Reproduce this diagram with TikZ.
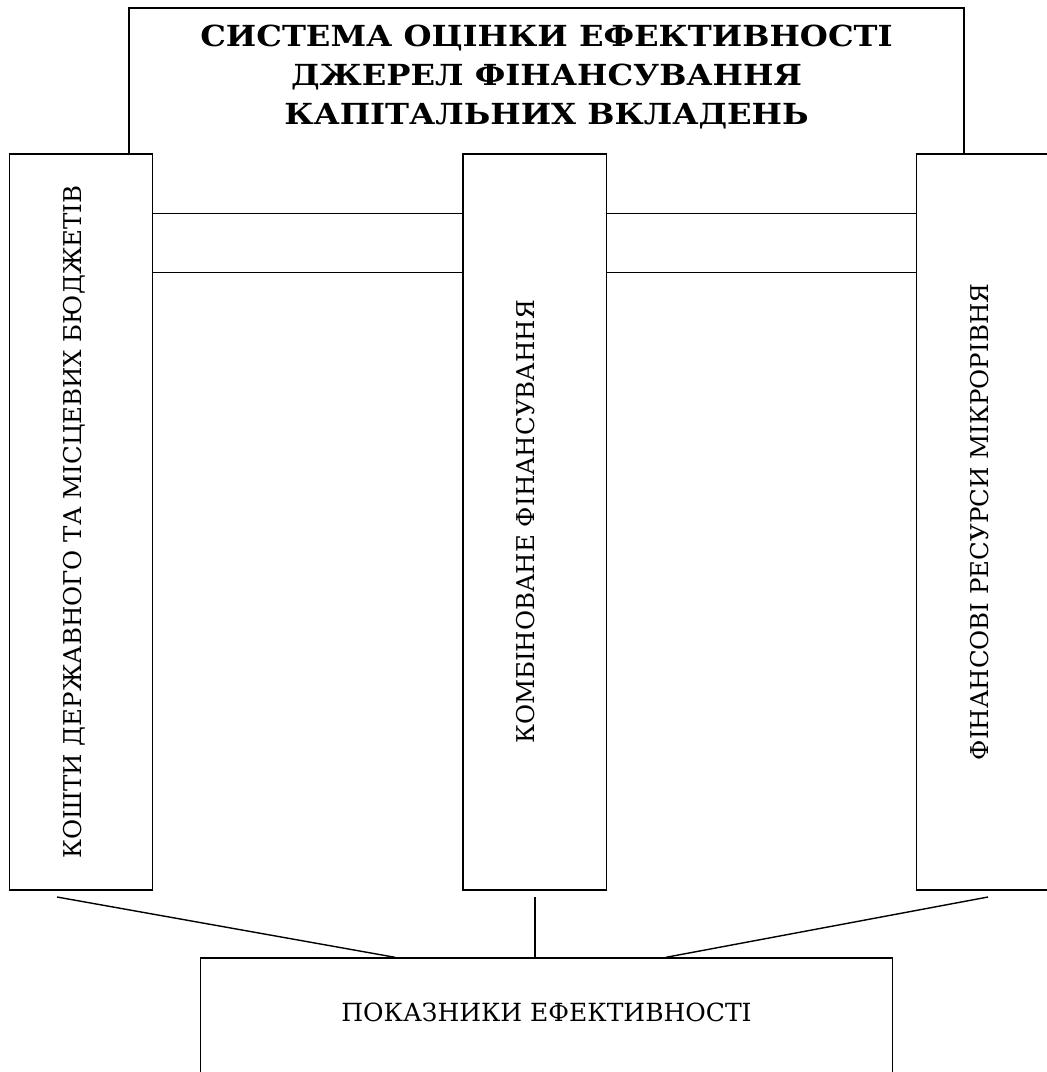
\documentclass[tikz,border=0pt]{standalone}
\usepackage{fontspec}
\setmainfont{DejaVu Serif}
\newfontfamily\titlefont[FakeStretch=1.11]{DejaVu Serif}
\usetikzlibrary{positioning}

\tikzset{
  box/.style={draw, line width=1.4pt, inner sep=0pt, minimum width=143.4, minimum height=736},
  coltext/.style={rotate=90, anchor=base, inner sep=0pt, font=\fontsize{24.5}{24.5}\selectfont},
  link/.style={line width=1.4pt},
}

\begin{document}
\begin{tikzpicture}[x=1pt,y=-1pt]
  \useasboundingbox (0,0) rectangle (1047,1072);
  \clip (0,0) rectangle (1047,1072);
  % Title frame, open at the bottom
  \draw[link] (129,154) -- (129,8) -- (964,8) -- (964,154);
  \node[align=center, inner sep=0pt, font=\titlefont\fontsize{29}{39}\selectfont\bfseries] (title) at (546.5,77)
    {СИСТЕМА ОЦІНКИ ЕФЕКТИВНОСТІ\\ДЖЕРЕЛ ФІНАНСУВАННЯ\\КАПІТАЛЬНИХ ВКЛАДЕНЬ};
  % Source columns
  \node[box] (budget) at (81,522) {};
  \node[box] (combined) at (534.5,522) {};
  \node[box] (micro) at (988.3,522) {};
  \node[coltext] (budgettext) at (budget.center) {КОШТИ ДЕРЖАВНОГО ТА МІСЦЕВИХ БЮДЖЕТІВ};
  \node[coltext] (combinedtext) at (combined.center) {КОМБІНОВАНЕ ФІНАНСУВАННЯ};
  \node[coltext] (microtext) at (micro.center) {ФІНАНСОВІ РЕСУРСИ МІКРОРІВНЯ};
  % Links between columns
  \foreach \y in {213.5,272.5} {
    \draw[link] (budget.east |- 0,\y) -- (combined.west |- 0,\y);
    \draw[link] (combined.east |- 0,\y) -- (micro.west |- 0,\y);
  }
  % Indicators box
  \node[box, minimum width=692, minimum height=122] (indicators) at (546.7,1019) {};
  \node[font=\fontsize{25}{25}\selectfont, inner sep=0pt] (indicatorstext) at (546.5,1012) {ПОКАЗНИКИ ЕФЕКТИВНОСТІ};
  % Feeds into the indicators box
  \coordinate (budgetfoot) at (57,897);
  \coordinate (combinedfoot) at (535,897);
  \coordinate (microfoot) at (988,897);
  \draw[link] (budgetfoot) -- (indicators.north -| 395,0);
  \draw[link] (combinedfoot) -- (indicators.north -| combinedfoot);
  \draw[link] (microfoot) -- (indicators.north -| 666,0);
\end{tikzpicture}
\end{document}
